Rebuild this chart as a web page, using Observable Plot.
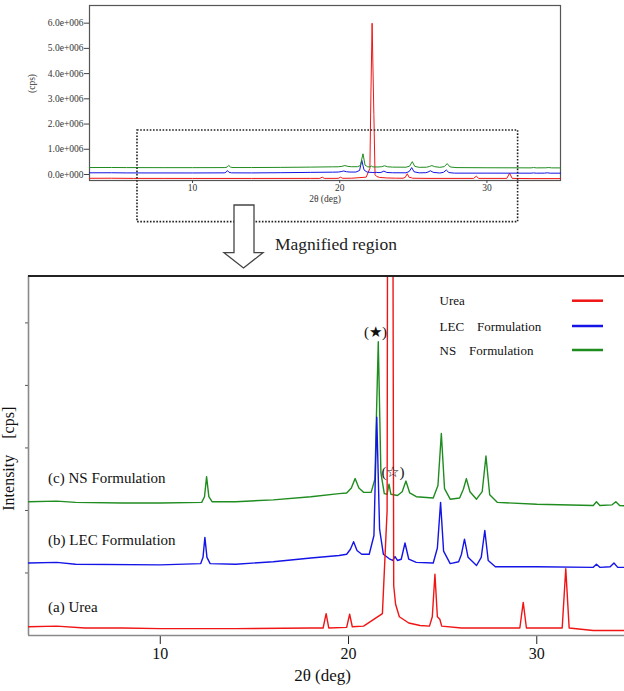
<!DOCTYPE html>
<html><head><meta charset="utf-8">
<script src="https://cdn.jsdelivr.net/npm/d3@7"></script>
<script src="https://cdn.jsdelivr.net/npm/@observablehq/plot@0.6"></script>
<style>
html,body{margin:0;padding:0;background:#fff;overflow:hidden;}
#fig{position:relative;width:624px;height:691px;font-family:"Liberation Serif","Times New Roman",serif;}
#fig > svg{position:absolute;left:0;}
</style></head><body><div id="fig"></div>
<script>
// ---- data (2θ in degrees, intensity in stacked "main chart" units) ----
const seriesNames = ["Urea", "LEC\u3000Formulation", "NS\u3000Formulation"];
const seriesColors = ["#f01414", "#1414e6", "#1f8c1f"];

const ureaProfile = [
  [3,0.14],[4.5,0.15],[6,0.12],[8,0.12],[10,0.11],[14,0.11],[18,0.12],[18.65,0.12],[18.81,0.35],[18.95,0.12],
  [19.9,0.13],[20.06,0.34],[20.2,0.14],[20.8,0.15],[21.3,0.25],[21.8,0.35],[22.05,2],[22.12,16],[22.2,29],
  [22.32,12],[22.4,0.8],[22.5,0.5],[22.7,0.3],[23.2,0.2],[23.8,0.16],[24.3,0.15],[24.45,0.3],[24.59,0.98],
  [24.72,0.3],[24.85,0.26],[24.95,0.15],[26,0.12],[29.1,0.12],[29.28,0.53],[29.45,0.12],[31.35,0.12],
  [31.54,1.07],[31.72,0.12],[33,0.08],[35,0.08]
];
const lecProfile = [
  [3,1.16],[4.5,1.17],[5.5,1.14],[10,1.13],[12.15,1.15],[12.27,1.25],[12.37,1.57],[12.48,1.25],[12.65,1.15],
  [14,1.14],[16,1.18],[18,1.24],[19.5,1.28],[19.9,1.3],[20.1,1.38],[20.27,1.5],[20.45,1.36],[20.7,1.3],
  [21.1,1.3],[21.35,1.6],[21.5,3.49],[21.65,1.7],[21.85,1.3],[22.2,1.22],[22.35,1.2],[22.47,1.26],[22.6,1.2],
  [22.8,1.22],[23.0,1.48],[23.2,1.22],[23.6,1.17],[24.5,1.16],[24.72,1.4],[24.89,2.13],[25.05,1.35],
  [25.4,1.15],[25.85,1.18],[26.0,1.3],[26.16,1.54],[26.35,1.25],[26.8,1.12],[27.05,1.25],[27.24,1.68],
  [27.42,1.2],[27.8,1.1],[30,1.1],[33,1.09],[33.17,1.14],[33.35,1.09],[33.9,1.1],[34.1,1.16],[34.3,1.09],[35,1.09]
];
const nsProfile = [
  [3,2.14],[4.5,2.15],[5.5,2.13],[8,2.12],[10,2.12],[12.2,2.13],[12.35,2.22],[12.46,2.54],[12.58,2.22],
  [12.75,2.14],[14,2.14],[16,2.17],[18,2.22],[19.5,2.27],[19.9,2.28],[20.15,2.36],[20.35,2.51],[20.55,2.36],
  [20.8,2.29],[21.2,2.29],[21.4,2.5],[21.58,4.7],[21.72,2.6],[21.9,2.27],[22.05,2.26],[22.15,2.42],[22.25,2.26],
  [22.6,2.24],[22.85,2.3],[23.05,2.47],[23.25,2.28],[23.6,2.22],[24.5,2.2],[24.75,2.4],[24.93,3.23],[25.1,2.35],
  [25.4,2.18],[25.9,2.2],[26.1,2.34],[26.26,2.51],[26.45,2.3],[26.8,2.18],[27.1,2.3],[27.3,2.87],[27.5,2.25],
  [27.9,2.13],[30,2.1],[33,2.08],[33.17,2.14],[33.35,2.08],[34,2.09],[34.2,2.14],[34.4,2.08],[35,2.07]
];

const seriesLabels = [
  {deg: 4.04, u: 2.52, label: "(c) NS Formulation"},
  {deg: 4.04, u: 1.52, label: "(b) LEC Formulation"},
  {deg: 4.04, u: 0.45, label: "(a) Urea"}
];
const peakMarks = [
  {deg: 21.43, u: 4.85, label: "(\u2605)"},
  {deg: 22.36, u: 2.62, label: "(\u2606)"}
];

// inset (overview) in cps
const insetYTicks = [0, 1e6, 2e6, 3e6, 4e6, 5e6, 6e6];
const xTicks = [10, 20, 30];
const CPS_PER_UNIT = 2.13e5, CPS_OFFSET = -1.8e5;
const zoomBox = {x1: 6.26, x2: 32.12, y1: -1.89e6, y2: 1.745e6};

// ---- build table ----
const profiles = [ureaProfile, lecProfile, nsProfile];
const rows = [];
profiles.forEach((p, i) => p.forEach(([deg, u]) => rows.push({series: seriesNames[i], deg, u})));
const bySeries = name => rows.filter(r => r.series === name);

const font = '"Liberation Serif","Times New Roman",serif';
const fig = document.getElementById("fig");

// ---- main (magnified) chart ----
const xMain = [3, 34.66], yMain = [0, 5.75];
const main = Plot.plot({
  width: 624, height: 421,
  marginTop: 5.5, marginLeft: 28, marginRight: 0, marginBottom: 56,
  style: {background: "transparent", fontFamily: font, fontSize: "16px", color: "#111"},
  x: {domain: xMain},
  y: {domain: yMain},
  color: {domain: seriesNames, range: seriesColors},
  marks: [
    Plot.axisY({ticks: [1,2,3,4,5], tickSize: 3, tickFormat: () => "", label: null, stroke: "#555"}),
    Plot.axisX({ticks: xTicks, tickSize: 9, tickPadding: 3, label: null, fontSize: 16, stroke: "#222"}),
    Plot.ruleY([yMain[0]], {stroke: "#8a8a8a", strokeWidth: 1.6}),
    Plot.ruleX([xMain[0]], {stroke: "#8a8a8a", strokeWidth: 1.6}),
    Plot.line(bySeries(seriesNames[2]), {x: "deg", y: "u", stroke: "series", strokeWidth: 1.4, clip: true}),
    Plot.line(bySeries(seriesNames[1]), {x: "deg", y: "u", stroke: "series", strokeWidth: 1.4, clip: true}),
    Plot.line(bySeries(seriesNames[0]), {x: "deg", y: "u", stroke: "series", strokeWidth: 1.4, clip: true}),
    Plot.ruleY([yMain[1]], {stroke: "#222", strokeWidth: 2}),
    Plot.text(seriesLabels, {x: "deg", y: "u", text: "label", textAnchor: "start", fontSize: 15, fill: "#111"}),
    Plot.text(peakMarks, {x: "deg", y: "u", text: "label", fontSize: 15, fill: "#111"}),
    Plot.text(["2θ (deg)"], {text: d => d, frameAnchor: "bottom", dx: -4, dy: 45, fontSize: 17, fill: "#111"}),
    Plot.text(["Intensity\u3000[cps]"], {text: d => d, frameAnchor: "left", textAnchor: "middle", dx: -20, dy: 3, rotate: -90, fontSize: 16, fill: "#111"})
  ]
});
main.style.top = "270px";
fig.appendChild(main);

// ---- inset (overview) chart ----
const fmt = d => (d / 1e6).toFixed(1) + (d === 0 ? "e+000" : "e+006");
const inset = Plot.plot({
  width: 624, height: 230,
  marginTop: 5, marginLeft: 89, marginRight: 64, marginBottom: 50,
  style: {background: "transparent", fontFamily: font, fontSize: "9.5px", color: "#333"},
  x: {domain: [3, 35]},
  y: {domain: [-0.238e6, 6.70e6]},
  color: {domain: seriesNames, range: seriesColors},
  marks: [
    Plot.frame({stroke: "#555", strokeWidth: 1.2}),
    Plot.axisY({ticks: insetYTicks, tickFormat: fmt, tickSize: 5, tickPadding: 1, label: null, stroke: "#444"}),
    Plot.axisX({ticks: xTicks, tickSize: 3, tickPadding: 1, label: null, stroke: "#444"}),
    Plot.line(rows, {x: "deg", y: d => d.u * CPS_PER_UNIT + CPS_OFFSET, z: "series", stroke: "series", strokeWidth: 1}),
    Plot.text(["2θ (deg)"], {text: d => d, frameAnchor: "bottom", dy: 21, fontSize: 9.5}),
    Plot.text(["(cps)"], {text: d => d, frameAnchor: "left", textAnchor: "middle", dx: -58, dy: -9.5, rotate: -90, fontSize: 9.5}),
    Plot.rect([zoomBox], {x1: "x1", x2: "x2", y1: "y1", y2: "y2", fill: "none", stroke: "#222", strokeWidth: 1.6, strokeDasharray: "1.6,1.6"})
  ]
});
inset.style.top = "0px";
fig.appendChild(inset);

// ---- overlay: arrow, caption, legend ----
const ov = d3.create("svg").attr("width", 624).attr("height", 691)
  .style("top", "0px").style("pointer-events", "none").style("font-family", font);
ov.append("path")
  .attr("d", "M234,205 H254 V252.7 H263 L243.5,268 L224,252.7 H234 Z")
  .attr("fill", "#fff").attr("stroke", "#444").attr("stroke-width", 1.3);
ov.append("text").attr("x", 275).attr("y", 250).attr("font-size", 17.5).attr("fill", "#222").text("Magnified region");
const legendY = [300.7, 326, 350];
seriesNames.forEach((name, i) => {
  ov.append("text").attr("x", 439.5).attr("y", legendY[i]).attr("dy", "0.35em")
    .attr("font-size", 13).attr("fill", "#111").text(name);
  ov.append("line").attr("x1", 572).attr("x2", 603).attr("y1", legendY[i]).attr("y2", legendY[i])
    .attr("stroke", seriesColors[i]).attr("stroke-width", 2.5);
});
fig.appendChild(ov.node());
</script></body></html>
